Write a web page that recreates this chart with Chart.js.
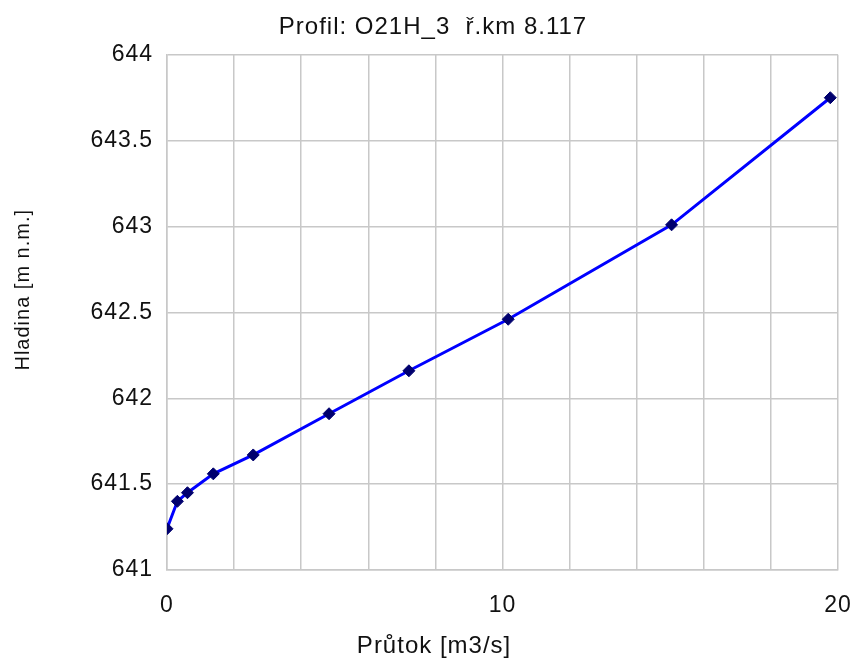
<!DOCTYPE html>
<html>
<head>
    <title>Profil O21H_3</title>
    <script src="https://cdn.jsdelivr.net/npm/chart.js"></script>
    <style>
        body { margin: 0; background: #fff; }
    </style>
</head>
<body>
    <canvas id="profilChart" width="862" height="659"></canvas>

    <script>
        // hodnoty
        var prutok = [0.0, 0.31, 0.61, 1.38, 2.57, 4.83, 7.21, 10.17, 15.04, 19.77];
        var hladina = [641.24, 641.40, 641.45, 641.56, 641.67, 641.91, 642.16, 642.46, 643.01, 643.75];
        var yMin = 641, yMax = 644, yStep = 0.5;
        var xMin = 0, xMax = 20, xStep = 2;
        var xLabelEvery = 10;
        var nadpis = 'Profil: O21H_3  ř.km 8.117';
        var popisX = 'Průtok [m3/s]';
        var popisY = 'Hladina [m n.m.]';

        var points = prutok.map(function (q, i) { return { x: q, y: hladina[i] }; });

        var textColor = '#111111';
        var gridColor = '#c8c8c8';
        var fontName = 'Liberation Sans';

        // trochu širší písmo jako v originálu
        var spacingPlugin = {
            id: 'spacing',
            beforeDraw: function (chart) { chart.ctx.letterSpacing = '1px'; }
        };

        // popisky os nejsou v originálu vystředěné na plochu grafu
        var axisTitles = {
            id: 'axisTitles',
            afterDraw: function (chart) {
                var a = chart.chartArea;
                var c = chart.ctx;
                c.save();
                c.fillStyle = textColor;
                c.textAlign = 'center';
                c.textBaseline = 'alphabetic';
                c.font = '24px "' + fontName + '"';
                c.fillText(popisX, a.left + (a.right - a.left) * 0.398, chart.height - 6);
                c.translate(29, a.top + (a.bottom - a.top) * 0.456);
                c.rotate(-Math.PI / 2);
                c.font = '20px "' + fontName + '"';
                c.fillText(popisY, 0, 0);
                c.restore();
            }
        };

        var ctx = document.getElementById('profilChart').getContext('2d');
        var chart = new Chart(ctx, {
            type: 'scatter',
            data: {
                datasets: [{
                    label: 'Hladina',
                    data: points,
                    showLine: true,
                    borderColor: '#0000ff',
                    borderWidth: 3,
                    tension: 0,
                    pointStyle: 'rectRot',
                    pointRadius: 6,
                    pointBackgroundColor: '#00006e',
                    pointBorderColor: '#00006e',
                    pointBorderWidth: 1
                }]
            },
            options: {
                responsive: false,
                animation: false,
                layout: { padding: { left: 28, right: 24, top: 0, bottom: 0 } },
                plugins: {
                    legend: { display: false },
                    tooltip: { enabled: false },
                    title: {
                        display: true,
                        text: nadpis,
                        color: textColor,
                        font: { family: fontName, size: 24, weight: 'normal' },
                        padding: { top: 13, bottom: 13 }
                    }
                },
                scales: {
                    x: {
                        type: 'linear',
                        min: xMin,
                        max: xMax,
                        afterFit: function (scale) { scale.height = 89; },
                        grid: { color: gridColor, lineWidth: 1.5, drawTicks: true, tickLength: 20, tickColor: 'rgba(0,0,0,0)' },
                        border: { color: gridColor, width: 1.5 },
                        ticks: {
                            stepSize: xStep,
                            padding: 2,
                            maxRotation: 0,
                            autoSkip: false,
                            color: textColor,
                            font: { family: fontName, size: 23 },
                            callback: function (v) { return v % xLabelEvery === 0 ? String(v) : ''; }
                        }
                    },
                    y: {
                        type: 'linear',
                        min: yMin,
                        max: yMax,
                        afterFit: function (scale) { scale.width = 139; },
                        grid: { color: gridColor, lineWidth: 1.5, drawTicks: false },
                        border: { color: gridColor, width: 1.5 },
                        ticks: {
                            stepSize: yStep,
                            padding: 14,
                            color: textColor,
                            font: { family: fontName, size: 23 },
                            callback: function (v) { return String(v); }
                        }
                    }
                }
            },
            plugins: [spacingPlugin, axisTitles]
        });
    </script>
</body>
</html>
